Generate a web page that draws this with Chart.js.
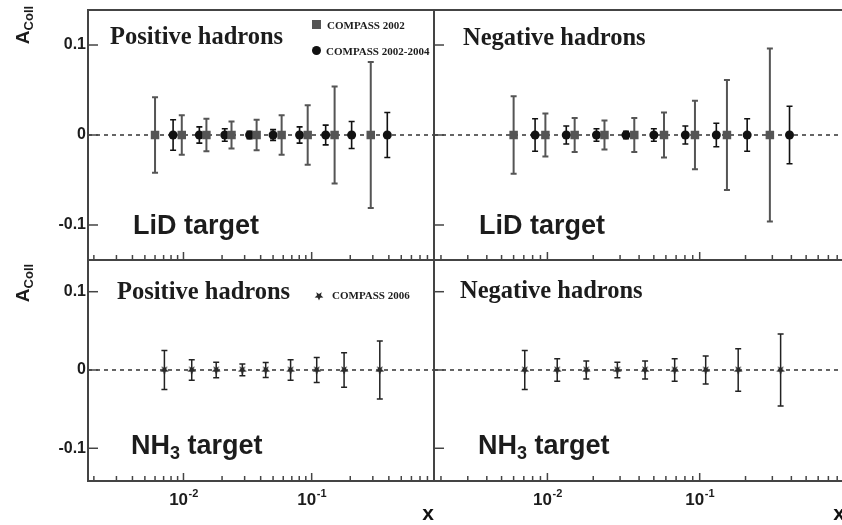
<!DOCTYPE html>
<html>
<head>
<meta charset="utf-8">
<script src="https://cdn.jsdelivr.net/npm/chart.js@4.4.1/dist/chart.umd.min.js"></script>
<style>
  html, body { margin: 0; padding: 0; background: #fff; overflow: hidden; }
  #wrap { position: relative; width: 842px; height: 525px; overflow: hidden; }
  #wrap canvas { position: absolute; }
  .lbl { position: absolute; white-space: nowrap; line-height: 1; color: #1c1c1c; }
  .serif { font-family: "Liberation Serif", "Times New Roman", serif; font-weight: bold; }
  .sans { font-family: "Liberation Sans", Arial, sans-serif; font-weight: bold; }
  .hadrons { font-size: 24.5px; }
  .target { font-size: 27px; }
  .target sub { font-size: 18px; vertical-align: -5px; line-height: 0; }
  .leg { font-size: 11px; }
  .ytitle { font-size: 19px; transform: translate(-50%, -50%) rotate(-90deg); }
  .ytitle sub { font-size: 13px; vertical-align: -4px; line-height: 0; }
  .mk { position: absolute; }
</style>
</head>
<body>
<div id="wrap">
  <canvas id="tl" width="434" height="260" style="left:0;top:0"></canvas>
  <canvas id="tr" width="411" height="260" style="left:434px;top:0"></canvas>
  <canvas id="bl" width="434" height="265" style="left:0;top:260px"></canvas>
  <canvas id="br" width="411" height="265" style="left:434px;top:260px"></canvas>

  <div class="lbl sans ytitle" style="left:22px;top:25px">A<sub>Coll</sub></div>
  <div class="lbl sans ytitle" style="left:22px;top:283px">A<sub>Coll</sub></div>

  <div class="lbl serif hadrons" style="left:110px;top:23.8px">Positive hadrons</div>
  <div class="lbl serif hadrons" style="left:463px;top:25px">Negative hadrons</div>
  <div class="lbl serif hadrons" style="left:117px;top:278.8px">Positive hadrons</div>
  <div class="lbl serif hadrons" style="left:460px;top:277.8px">Negative hadrons</div>

  <div class="lbl sans target" style="left:133px;top:212px">LiD target</div>
  <div class="lbl sans target" style="left:479px;top:211.5px">LiD target</div>
  <div class="lbl sans target" style="left:131px;top:431.5px">NH<sub>3</sub> target</div>
  <div class="lbl sans target" style="left:478px;top:431.5px">NH<sub>3</sub> target</div>

  <div class="mk" style="left:312px;top:19.5px;width:9px;height:9px;background:#555"></div>
  <div class="lbl serif leg" style="left:327px;top:20.1px">COMPASS 2002</div>
  <div class="mk" style="left:312px;top:46px;width:9px;height:9px;border-radius:50%;background:#111"></div>
  <div class="lbl serif leg" style="left:326px;top:45.8px">COMPASS 2002-2004</div>
  <div class="lbl serif leg" style="left:332px;top:290.1px">COMPASS 2006</div>
</div>
<script>
// x positions (Bjorken x) of the bins
const xLid2002 = [0.0060, 0.0097, 0.0151, 0.0237, 0.0372, 0.0583, 0.0931, 0.151, 0.289];
const xLid0204 = [0.0083, 0.0133, 0.0210, 0.0328, 0.0500, 0.0805, 0.1286, 0.205, 0.389];
const xNh3 = [0.0071, 0.0116, 0.0180, 0.0288, 0.0438, 0.0685, 0.1095, 0.179, 0.340];

// asymmetry values
const posLid2002 = [0, 0, 0, 0, 0, 0, 0, 0, 0];
const posLid0204 = [0, 0, 0, 0, 0, 0, 0, 0, 0];
const negLid2002 = [0, 0, 0, 0, 0, 0, 0, 0, 0];
const negLid0204 = [0, 0, 0, 0, 0, 0, 0, 0, 0];
const posNh3 = [0, 0, 0, 0, 0, 0, 0, 0, 0];
const negNh3 = [0, 0, 0, 0, 0, 0, 0, 0, 0];

// statistical errors
const posLid2002Err = [0.042, 0.022, 0.018, 0.015, 0.017, 0.022, 0.033, 0.054, 0.081];
const posLid0204Err = [0.017, 0.009, 0.007, 0.004, 0.006, 0.009, 0.011, 0.015, 0.025];
const negLid2002Err = [0.043, 0.024, 0.019, 0.016, 0.019, 0.025, 0.038, 0.061, 0.096];
const negLid0204Err = [0.018, 0.010, 0.007, 0.004, 0.007, 0.010, 0.013, 0.018, 0.032];
const posNh3Err = [0.025, 0.013, 0.010, 0.0075, 0.0095, 0.013, 0.016, 0.022, 0.037];
const negNh3Err = [0.025, 0.0145, 0.0115, 0.0098, 0.0115, 0.0145, 0.018, 0.027, 0.046];

const yTickValues = [-0.1, 0, 0.1];
const xTickValues = [0.01, 0.1];
const xTickExponents = ["-2", "-1"];

const frameColor = "#444";
const sansBold = "'Liberation Sans', Arial, sans-serif";

function makeStar(r, color) {
  const c = document.createElement("canvas");
  const s = Math.ceil(r * 2 + 2);
  c.width = s;
  c.height = s;
  const ctx = c.getContext("2d");
  ctx.fillStyle = color;
  ctx.beginPath();
  for (let i = 0; i < 10; i++) {
    const rr = i % 2 ? r * 0.45 : r;
    const a = Math.PI / 2 + (i * Math.PI) / 5;
    ctx.lineTo(s / 2 + rr * Math.cos(a), s / 2 + rr * Math.sin(a));
  }
  ctx.closePath();
  ctx.fill();
  return c;
}

const starStyle = makeStar(4.6, "#2a2a2a");
const legStar = makeStar(4.6, "#2a2a2a");
legStar.style.left = 319 - legStar.width / 2 + "px";
legStar.style.top = 296 - legStar.height / 2 + "px";
document.getElementById("wrap").appendChild(legStar);

const toPoints = (xs, ys) => xs.map((x, i) => ({ x: x, y: ys[i] }));

function squareSet(xs, ys, errs) {
  return {
    data: toPoints(xs, ys),
    errors: errs,
    errorColor: "#555",
    errorWidth: 2,
    pointStyle: "rect",
    pointRadius: 6,
    backgroundColor: "#555",
    borderColor: "#555",
    borderWidth: 0,
  };
}

function circleSet(xs, ys, errs) {
  return {
    data: toPoints(xs, ys),
    errors: errs,
    errorColor: "#111",
    errorWidth: 1.6,
    pointStyle: "circle",
    pointRadius: 4.5,
    backgroundColor: "#111",
    borderColor: "#111",
    borderWidth: 0,
  };
}

function starSet(xs, ys, errs) {
  return {
    data: toPoints(xs, ys),
    errors: errs,
    errorColor: "#222",
    errorWidth: 1.5,
    pointStyle: starStyle,
    pointRadius: 4.6,
    backgroundColor: "#222",
    borderColor: "#222",
  };
}

// dashed zero line and error bars, under the markers
const errorBarPlugin = {
  id: "errorBars",
  beforeDatasetsDraw(chart) {
    const { ctx, chartArea, scales } = chart;
    const x = scales.x;
    const y = scales.y;
    ctx.save();
    ctx.strokeStyle = "#333";
    ctx.lineWidth = 1.5;
    ctx.setLineDash([4, 4]);
    const y0 = y.getPixelForValue(0);
    ctx.beginPath();
    ctx.moveTo(chartArea.left, y0);
    ctx.lineTo(chartArea.right, y0);
    ctx.stroke();
    ctx.setLineDash([]);
    chart.data.datasets.forEach((ds) => {
      ctx.strokeStyle = ds.errorColor;
      ctx.lineWidth = ds.errorWidth;
      ds.data.forEach((p, i) => {
        const px = x.getPixelForValue(p.x);
        const top = y.getPixelForValue(p.y + ds.errors[i]);
        const bot = y.getPixelForValue(p.y - ds.errors[i]);
        ctx.beginPath();
        ctx.moveTo(px, top);
        ctx.lineTo(px, bot);
        ctx.moveTo(px - 3, top);
        ctx.lineTo(px + 3, top);
        ctx.moveTo(px - 3, bot);
        ctx.lineTo(px + 3, bot);
        ctx.stroke();
      });
    });
    ctx.restore();
  },
};

// frame with inward ticks, plus 10^n labels on the bottom row
const framePlugin = {
  id: "frame",
  afterDraw(chart, args, opts) {
    const { ctx, chartArea, scales } = chart;
    const x = scales.x;
    const y = scales.y;
    ctx.save();
    ctx.strokeStyle = frameColor;
    ctx.lineWidth = 1.5;
    yTickValues.forEach((v) => {
      const py = y.getPixelForValue(v);
      ctx.beginPath();
      ctx.moveTo(chartArea.left, py);
      ctx.lineTo(chartArea.left + 10, py);
      ctx.stroke();
    });
    for (let k = -3; k <= 0; k++) {
      for (let m = 1; m <= 9; m++) {
        const v = m * Math.pow(10, k);
        if (v < x.min || v > x.max) continue;
        const px = x.getPixelForValue(v);
        ctx.beginPath();
        ctx.moveTo(px, chartArea.bottom);
        ctx.lineTo(px, chartArea.bottom - (m === 1 ? 8 : 5));
        ctx.stroke();
      }
    }
    ctx.lineWidth = 2;
    ctx.strokeRect(chartArea.left, chartArea.top, chartArea.right - chartArea.left, chartArea.bottom - chartArea.top);

    if (opts.xLabels) {
      ctx.fillStyle = "#1c1c1c";
      ctx.textBaseline = "alphabetic";
      ctx.textAlign = "left";
      xTickValues.forEach((v, i) => {
        const px = x.getPixelForValue(v);
        ctx.font = "bold 17px " + sansBold;
        const w1 = ctx.measureText("10").width;
        ctx.font = "bold 11px " + sansBold;
        const w2 = ctx.measureText(xTickExponents[i]).width;
        const start = px - (w1 + w2) / 2;
        ctx.font = "bold 17px " + sansBold;
        ctx.fillText("10", start, chartArea.bottom + 24);
        ctx.font = "bold 11px " + sansBold;
        ctx.fillText(xTickExponents[i], start + w1 + 0.5, chartArea.bottom + 16);
      });
    }
    ctx.restore();
  },
};

function makePanel(id, datasets, cfg) {
  new Chart(document.getElementById(id), {
    type: "scatter",
    data: { datasets: datasets },
    plugins: [errorBarPlugin, framePlugin],
    options: {
      responsive: false,
      animation: false,
      events: [],
      layout: { autoPadding: false, padding: { top: cfg.padTop, right: 0, bottom: 0, left: 0 } },
      plugins: {
        legend: { display: false },
        tooltip: { enabled: false },
        frame: { xLabels: cfg.showX },
      },
      scales: {
        x: {
          type: "logarithmic",
          min: 0.0018,
          max: 0.9,
          display: cfg.showX,
          grid: { display: false, drawTicks: false },
          border: { display: false },
          ticks: { display: false },
          title: {
            display: cfg.showX,
            text: "x",
            align: "end",
            color: "#111",
            font: { family: sansBold, weight: "bold", size: 21, lineHeight: 1 },
            padding: { top: 0, bottom: 0 },
          },
          afterFit: (scale) => {
            scale.height = cfg.showX ? 44 : 0;
            scale.paddingLeft = 0;
            scale.paddingRight = 0;
          },
        },
        y: {
          min: cfg.yMin,
          max: cfg.yMax,
          display: cfg.showY,
          grid: { display: false, drawTicks: false },
          border: { display: false },
          afterBuildTicks: (scale) => {
            scale.ticks = yTickValues.map((v) => ({ value: v }));
          },
          ticks: {
            padding: 2,
            color: "#1c1c1c",
            font: { family: sansBold, weight: "bold", size: 16 },
            callback: (v) => (v === 0 ? "0" : v.toFixed(1)),
          },
          afterFit: (scale) => {
            scale.width = cfg.showY ? 88 : 0;
            scale.paddingTop = 0;
            scale.paddingBottom = 0;
          },
        },
      },
    },
  });
}

makePanel(
  "tl",
  [squareSet(xLid2002, posLid2002, posLid2002Err), circleSet(xLid0204, posLid0204, posLid0204Err)],
  { padTop: 10, showX: false, showY: true, yMin: -0.1389, yMax: 0.1389 }
);
makePanel(
  "tr",
  [squareSet(xLid2002, negLid2002, negLid2002Err), circleSet(xLid0204, negLid0204, negLid0204Err)],
  { padTop: 10, showX: false, showY: false, yMin: -0.1389, yMax: 0.1389 }
);
makePanel(
  "bl",
  [starSet(xNh3, posNh3, posNh3Err)],
  { padTop: 0, showX: true, showY: true, yMin: -0.1418, yMax: 0.1405 }
);
makePanel(
  "br",
  [starSet(xNh3, negNh3, negNh3Err)],
  { padTop: 0, showX: true, showY: false, yMin: -0.1418, yMax: 0.1405 }
);
</script>
</body>
</html>
